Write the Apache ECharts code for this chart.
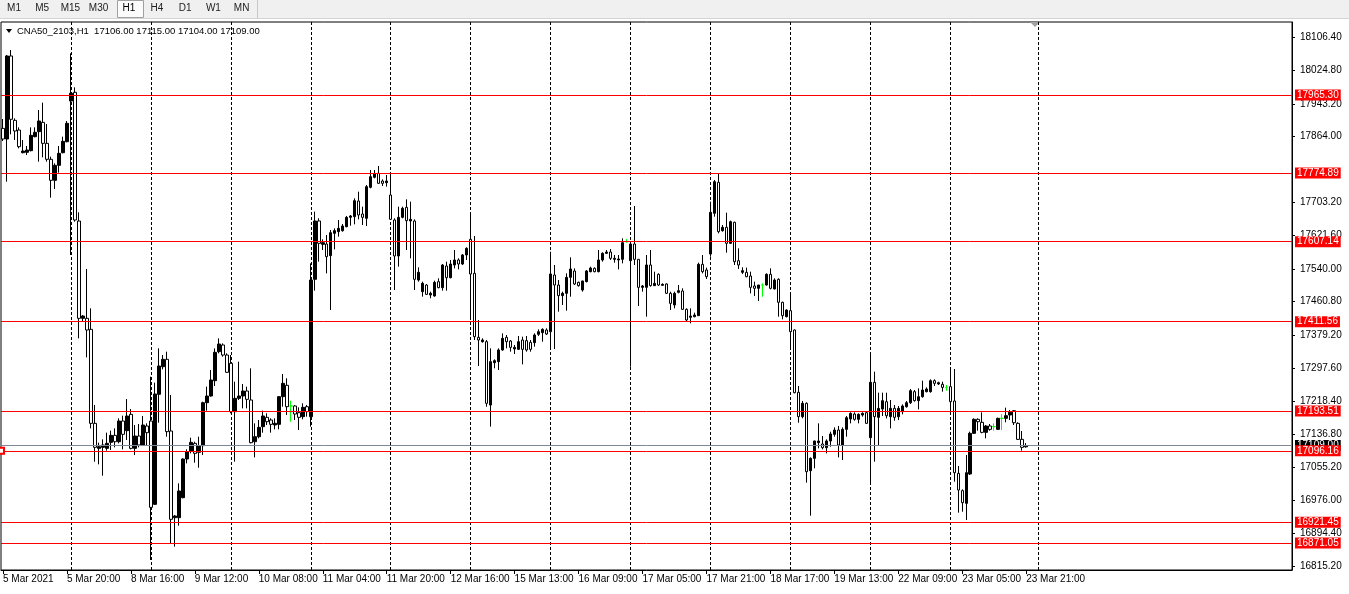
<!DOCTYPE html>
<html>
<head>
<meta charset="utf-8">
<script src="https://cdn.jsdelivr.net/npm/echarts@6/dist/echarts.min.js"></script>
<style>
html,body{margin:0;padding:0;background:#fff;}
#chart{width:1349px;height:594px;}
</style>
</head>
<body>
<div id="chart"></div>
<script>
// ---------- data ----------
const symbolName = 'CNA50_2103,H1';
const timeframes = ['M1','M5','M15','M30','H1','H4','D1','W1','MN'];
const activeTimeframe = 'H1';

// one label every 16 hourly bars, starting at the first bar
const xTickLabels = ['5 Mar 2021','5 Mar 20:00','8 Mar 16:00','9 Mar 12:00','10 Mar 08:00','11 Mar 04:00',
  '11 Mar 20:00','12 Mar 16:00','15 Mar 13:00','16 Mar 09:00','17 Mar 05:00','17 Mar 21:00',
  '18 Mar 17:00','19 Mar 13:00','22 Mar 09:00','23 Mar 05:00','23 Mar 21:00'];

const yTickValues = [18106.40,18024.80,17943.20,17864.00,17703.20,17621.60,17540.00,17460.80,
  17379.20,17297.60,17218.40,17136.80,17055.20,16976.00,16894.40,16815.20];

const levelLines = [17965.30,17774.89,17607.14,17411.56,17193.51,17096.16,16921.45,16871.05];
const selectedLevel = 17096.16;

const opens = [
17883.8,17857.8,18060.6,17903.4,17879.8,17824.4,17825.3,17829.3,17863.5,17875.7,
17898.5,17847.2,17808.2,17756.9,17793.5,17824.4,17851.3,17950.6,17971.8,17657.5,
17419.8,17419.8,17392.9,17163.3,17102.2,17104.7,17102.2,17116.9,17134.0,17118.5,
17169.0,17145.4,17185.3,17102.2,17132.4,17110.4,17156.8,17169.0,16965.5,17234.2,
17301.7,17319.7,17144.6,16932.9,16932.9,16981.8,17076.2,17095.7,17114.4,17092.5,
17108.8,17213.8,17230.1,17267.5,17338.4,17354.7,17330.2,17309.9,17191.8,17224.4,
17230.1,17242.3,17220.3,17118.5,17130.7,17155.2,17178.0,17171.5,17159.3,17160.9,
17228.5,17256.2,17205.7,17205.7,17189.4,17179.6,17204.0,17179.6,17515.1,17657.6,
17600.6,17601.4,17572.9,17627.4,17631.5,17633.9,17643.7,17666.5,17668.1,17706.4,
17674.6,17664.1,17739.8,17764.2,17774.0,17755.2,17751.2,17721.0,17660.0,17572.1,
17666.5,17690.9,17657.6,17657.6,17513.4,17484.9,17501.2,17476.8,17474.4,17509.4,
17494.7,17547.6,17519.1,17550.1,17562.3,17552.5,17574.5,17612.8,17529.7,17373.4,
17362.8,17362.8,17208.1,17311.5,17314.0,17342.5,17373.4,17364.4,17344.9,17344.1,
17366.9,17365.3,17361.2,17360.4,17380.7,17384.8,17391.3,17387.2,17525.6,17501.2,
17475.2,17480.9,17519.9,17535.4,17507.7,17489.0,17509.4,17533.8,17541.9,17533.8,
17562.3,17578.6,17581.8,17563.9,17562.3,17563.9,17607.1,17560.6,17601.4,17563.9,
17495.5,17495.5,17550.1,17499.6,17527.3,17500.4,17503.7,17480.9,17452.4,17483.3,
17486.6,17441.8,17422.2,17423.9,17426.3,17551.7,17537.9,17576.9,17676.3,17752.0,
17633.9,17642.1,17603.0,17654.3,17560.6,17532.2,17532.2,17523.2,17498.8,17493.1,
17501.2,17501.2,17527.3,17491.5,17515.1,17458.9,17423.9,17438.5,17391.3,17239.0,
17179.6,17212.2,17047.7,17077.8,17116.1,17112.9,17103.9,17120.2,17136.4,17147.0,
17110.4,17148.6,17173.9,17186.1,17173.1,17183.7,17189.4,17128.3,17263.5,17178.0,
17198.3,17216.2,17179.6,17199.9,17179.6,17191.8,17204.0,17213.8,17240.7,17218.7,
17228.4,17240.7,17240.7,17267.5,17259.4,17258.6,17250.4,17252.9,17217.9,17041.2,
16998.9,16967.9,17039.6,17138.9,17173.1,17165.8,17141.3,17156.8,17155.2,17148.6,
17175.5,17175.5,17183.7,17194.2,17163.3,17124.2,17106.0];

const highs = [
17906.7,18063.0,18075.2,17908.3,17886.3,17855.4,17840.7,17886.3,17886.3,17928.6,
17946.6,17894.5,17814.7,17798.4,17840.7,17863.5,17901.8,18067.1,17984.0,17678.7,
17427.9,17540.3,17444.2,17208.1,17116.1,17124.2,17140.5,17145.4,17151.1,17175.5,
17182.0,17222.7,17198.3,17159.2,17161.7,17181.2,17163.3,17277.3,17262.6,17346.5,
17330.2,17338.4,17232.5,16939.4,17016.8,17077.8,17099.8,17128.3,17118.5,17130.7,
17216.2,17252.9,17293.6,17346.5,17370.9,17358.7,17334.3,17330.2,17265.1,17313.9,
17259.4,17252.9,17297.7,17163.3,17171.5,17194.3,17187.8,17175.6,17175.6,17230.1,
17283.8,17273.3,17218.7,17208.1,17202.4,17212.2,17208.1,17554.1,17680.4,17664.1,
17612.8,17623.3,17635.6,17639.6,17660.0,17650.2,17669.8,17672.2,17712.9,17729.2,
17692.5,17745.5,17782.1,17782.1,17791.9,17759.3,17769.9,17769.9,17664.1,17692.5,
17692.5,17710.5,17704.8,17661.6,17544.4,17509.4,17503.7,17484.9,17511.8,17517.5,
17552.5,17558.2,17562.3,17586.7,17566.4,17576.9,17593.2,17672.2,17620.9,17415.7,
17371.0,17366.9,17346.5,17319.7,17346.5,17383.2,17379.1,17366.9,17354.7,17376.7,
17375.0,17376.7,17366.9,17383.2,17392.9,17395.4,17395.4,17582.6,17550.1,17513.4,
17484.9,17529.7,17568.8,17541.9,17509.4,17511.8,17537.9,17546.0,17544.4,17586.7,
17581.0,17586.7,17589.1,17574.5,17574.5,17615.2,17613.6,17601.4,17694.2,17563.9,
17501.2,17574.5,17586.7,17533.8,17529.7,17505.3,17505.3,17484.9,17484.9,17501.2,
17493.1,17444.2,17444.2,17433.6,17555.8,17574.5,17543.6,17704.8,17757.7,17772.3,
17647.8,17677.9,17658.4,17655.9,17590.8,17544.4,17543.6,17533.8,17509.4,17501.2,
17505.3,17529.7,17541.9,17517.5,17517.5,17460.5,17441.8,17483.3,17392.9,17254.5,
17217.9,17214.6,17080.3,17121.0,17163.3,17132.4,17124.2,17143.0,17153.5,17156.8,
17153.5,17181.2,17190.2,17190.2,17187.7,17190.2,17191.8,17335.9,17289.5,17238.2,
17238.2,17238.2,17220.3,17208.1,17205.7,17209.7,17217.9,17247.2,17244.7,17248.8,
17267.5,17251.2,17270.8,17270.8,17265.1,17265.1,17256.9,17296.0,17296.0,17059.1,
17002.1,17086.0,17143.0,17175.5,17175.5,17190.2,17159.2,17161.7,17163.3,17177.2,
17186.1,17201.6,17195.9,17195.9,17165.8,17144.6,17115.0];

const lows = [
17852.9,17753.6,17869.2,17855.4,17835.0,17822.8,17818.7,17827.7,17861.9,17802.5,
17813.0,17802.5,17714.5,17735.7,17775.6,17822.8,17849.7,17574.5,17655.9,17370.9,
17411.6,17324.5,17151.1,17069.7,17063.2,17035.5,17096.6,17098.2,17104.7,17114.4,
17099.8,17122.6,17099.8,17085.9,17104.7,17107.9,17110.4,16829.5,16963.8,17164.9,
17295.2,17130.7,16870.2,16862.1,16913.4,16980.1,17065.6,17090.0,17067.2,17055.0,
17085.9,17194.3,17228.4,17254.5,17334.3,17326.2,17287.1,17187.8,17069.7,17220.3,
17199.9,17199.9,17114.4,17080.3,17126.7,17140.5,17159.3,17140.5,17148.7,17148.7,
17204.0,17183.7,17167.4,17171.5,17147.1,17173.1,17179.6,17155.2,17487.4,17558.2,
17586.7,17529.7,17440.2,17588.3,17619.3,17631.5,17642.1,17646.1,17649.4,17661.6,
17647.8,17645.3,17737.3,17761.8,17747.9,17743.0,17741.4,17660.0,17489.0,17546.0,
17664.1,17586.7,17566.4,17489.0,17509.4,17472.7,17476.8,17468.7,17472.7,17493.1,
17487.4,17487.4,17517.5,17541.9,17539.5,17550.1,17562.3,17419.8,17366.9,17303.4,
17360.4,17204.0,17155.2,17297.7,17293.6,17340.8,17346.5,17338.4,17332.7,17342.5,
17307.4,17338.4,17338.4,17350.6,17376.7,17362.8,17379.1,17344.9,17344.9,17436.1,
17452.4,17438.5,17472.7,17501.2,17497.2,17484.9,17507.7,17532.2,17532.2,17532.2,
17558.2,17576.9,17562.3,17555.8,17539.5,17554.1,17604.6,17301.7,17550.1,17449.9,
17484.9,17423.9,17497.2,17498.8,17498.8,17498.8,17479.2,17440.2,17444.2,17480.9,
17440.2,17411.7,17407.6,17422.2,17425.5,17529.7,17515.9,17570.4,17668.1,17627.4,
17631.5,17580.2,17601.4,17550.1,17540.3,17528.1,17520.0,17480.9,17474.4,17462.1,
17472.7,17499.6,17490.6,17490.6,17423.9,17417.4,17422.2,17342.4,17236.6,17164.9,
17175.5,17018.4,16937.8,17053.4,17102.2,17099.8,17090.0,17106.3,17130.7,17080.3,
17073.7,17130.7,17163.3,17169.8,17163.3,17179.6,17161.7,17018.4,17069.7,17110.4,
17181.2,17175.5,17151.1,17169.8,17171.4,17185.3,17201.6,17210.5,17216.2,17197.5,
17226.0,17239.0,17238.2,17254.5,17256.9,17240.7,17243.1,17191.8,17020.8,16945.1,
16947.5,16927.2,17037.1,17137.3,17145.4,17138.9,17126.7,17145.4,17145.4,17147.0,
17147.0,17165.8,17171.4,17159.2,17122.6,17096.5,17104.0];

const closes = [
17857.8,18060.6,17905.9,17877.4,17839.1,17828.5,17830.9,17866.8,17874.1,17901.8,
17847.2,17808.2,17756.9,17793.5,17822.8,17852.1,17896.1,17969.4,17660.0,17419.8,
17425.5,17391.3,17163.3,17104.7,17106.3,17110.4,17114.4,17134.0,17118.5,17169.0,
17136.5,17181.2,17102.2,17132.4,17110.4,17159.2,17140.5,16958.1,17235.0,17303.4,
17319.7,17143.0,16928.9,16937.0,16998.1,17076.2,17093.3,17116.9,17090.0,17107.9,
17213.8,17230.1,17269.2,17336.7,17357.1,17330.2,17287.9,17191.8,17224.4,17230.1,
17242.3,17221.9,17116.1,17130.7,17153.5,17181.3,17167.4,17160.9,17163.4,17228.5,
17261.0,17204.0,17205.7,17186.1,17178.0,17202.4,17191.8,17513.4,17657.6,17603.0,
17604.6,17570.4,17629.0,17633.9,17639.6,17645.3,17666.5,17669.8,17707.2,17672.2,
17666.5,17741.4,17765.8,17774.0,17749.5,17749.5,17755.2,17661.6,17572.1,17666.5,
17688.5,17658.4,17661.6,17515.1,17532.2,17505.3,17478.4,17480.9,17507.7,17494.7,
17550.1,17519.1,17552.5,17562.3,17552.5,17574.5,17590.8,17528.1,17375.0,17366.9,
17366.9,17212.2,17314.0,17316.4,17342.5,17370.9,17362.8,17348.9,17348.9,17362.8,
17344.1,17342.5,17344.1,17379.1,17387.2,17392.9,17381.5,17528.1,17501.2,17475.2,
17480.9,17519.9,17540.3,17503.7,17499.6,17511.0,17535.4,17542.7,17533.8,17562.3,
17578.6,17581.8,17566.4,17566.4,17564.7,17604.6,17607.1,17601.4,17563.9,17495.5,
17498.8,17550.1,17499.6,17505.3,17501.2,17502.8,17480.9,17456.4,17480.9,17487.4,
17441.8,17415.7,17425.5,17427.9,17551.7,17533.8,17521.6,17678.7,17753.6,17631.5,
17642.1,17603.0,17655.9,17558.2,17550.1,17536.2,17521.6,17495.5,17493.1,17501.2,
17501.2,17527.3,17493.1,17513.4,17458.9,17426.3,17440.1,17387.2,17238.2,17179.6,
17212.2,17045.2,17077.8,17120.2,17120.2,17103.9,17120.2,17137.3,17147.0,17110.4,
17148.6,17177.2,17187.7,17173.1,17185.3,17187.7,17163.3,17263.5,17179.6,17199.9,
17218.7,17182.0,17199.9,17178.0,17199.9,17205.7,17213.8,17243.1,17218.7,17228.4,
17244.7,17247.2,17267.5,17261.0,17262.6,17251.2,17250.4,17216.2,17042.8,17000.5,
16969.5,17042.8,17138.9,17173.1,17167.4,17141.3,17156.8,17148.6,17155.2,17175.5,
17175.5,17182.0,17190.2,17164.9,17124.2,17104.7,17109.0];

// ---------- layout / style ----------
const FONT = '"Liberation Sans", Arial, sans-serif';
const BARS_PER_LABEL = 16;
const TOTAL_SLOTS = 323;          // bars + right-side chart shift space
const SEP_FIRST = 17, SEP_STEP = 20;
const Y_MIN = 16805.11, Y_MAX = 18143.60;
const DOJI = '#00ff00';

const nBars = opens.length;
const categories = Array.from({length: TOTAL_SLOTS}, (_, i) => String(i));
const candleData = opens.map((o, i) => {
  const item = { value: [o, closes[i], lows[i], highs[i]] };
  if (o === closes[i]) item.itemStyle = { color: DOJI, color0: DOJI, borderColor: DOJI, borderColor0: DOJI };
  return item;
});

const separators = [];
for (let b = SEP_FIRST; b < nBars; b += SEP_STEP) separators.push({ xAxis: b });
separators.push({ xAxis: nBars + 2 });

const lastO = opens[nBars-1], lastH = highs[nBars-1], lastL = lows[nBars-1], lastC = closes[nBars-1];

const levelData = [
  { yAxis: lastC, lineStyle: { color: '#7d8894' }, label: { backgroundColor: '#000' } }
].concat(levelLines.map(v => {
  const d = { yAxis: v };
  if (v === selectedLevel) { d.symbol = 'emptyRect'; d.symbolSize = 6; }
  return d;
}));

const labelShown = (i) => i % BARS_PER_LABEL === 0 && i < nBars;

// toolbar graphics
const toolbar = [
  { type: 'rect', shape: { x: 0, y: 0, width: 1349, height: 18 }, style: { fill: '#f0f0f0' }, silent: true },
  { type: 'rect', shape: { x: 0, y: 18, width: 1349, height: 1 }, style: { fill: '#d4d4d4' }, silent: true },
  { type: 'rect', shape: { x: 117.5, y: 0.5, width: 26, height: 17 }, style: { fill: '#fbfbfb', stroke: '#a0a0a0', lineWidth: 1 }, silent: true },
  { type: 'rect', shape: { x: 257, y: 0, width: 1, height: 18 }, style: { fill: '#c8c8c8' }, silent: true },
  { type: 'polygon', shape: { points: [[6, 29], [12, 29], [9, 33]] }, style: { fill: '#000' }, silent: true },
  { type: 'polygon', shape: { points: [[1030, 22], [1040, 22], [1035, 27]] }, style: { fill: '#a0a0a0' }, silent: true }
];
timeframes.forEach((tf, i) => {
  toolbar.push({
    type: 'text', silent: true,
    x: 14 + 28.2 * i + (i >= 4 ? 2 : 0), y: 8.5,
    style: { text: tf, fill: tf === activeTimeframe ? '#000' : '#222', font: '10px ' + FONT, align: 'center', verticalAlign: 'middle' }
  });
});

const chart = echarts.init(document.getElementById('chart'), null, { renderer: 'canvas' });
chart.setOption({
  animation: false,
  backgroundColor: '#fff',
  title: {
    text: symbolName + '  ' + [lastO, lastH, lastL, lastC].map(v => v.toFixed(2)).join(' '),
    left: 17, top: 26, padding: 0,
    textStyle: { fontSize: 9.5, fontWeight: 'normal', color: '#000', fontFamily: FONT }
  },
  graphic: toolbar,
  grid: { left: 0, right: 57, top: 22, bottom: 24, show: true, borderColor: '#000', borderWidth: 1, backgroundColor: '#fff' },
  xAxis: {
    type: 'category', data: categories, boundaryGap: true,
    axisLine: { show: true, lineStyle: { color: '#000', width: 1 } },
    axisTick: { show: true, alignWithLabel: true, length: 4, interval: labelShown, lineStyle: { color: '#000' } },
    axisLabel: {
      interval: labelShown, align: 'left', margin: 4, color: '#000', fontSize: 10, fontFamily: FONT,
      formatter: (v, i) => xTickLabels[Math.round(i / BARS_PER_LABEL)] || ''
    },
    splitLine: { show: false }
  },
  yAxis: {
    type: 'value', position: 'right', min: Y_MIN, max: Y_MAX, scale: true,
    axisLine: { show: true, lineStyle: { color: '#000', width: 1 } },
    axisTick: { show: true, length: 3, customValues: yTickValues, lineStyle: { color: '#000' } },
    axisLabel: { customValues: yTickValues, formatter: v => v.toFixed(2), margin: 8, color: '#000', fontSize: 10, fontFamily: FONT },
    splitLine: { show: false }
  },
  series: [
    {
      name: 'separators', type: 'line', data: [], z: 1, silent: true,
      markLine: {
        silent: true, symbol: 'none', z: 1, animation: false,
        label: { show: false },
        lineStyle: { color: '#000', width: 1, type: [3, 2] },
        emphasis: { disabled: true },
        data: separators
      }
    },
    {
      name: symbolName, type: 'candlestick', data: candleData, barWidth: 3, z: 3, silent: true,
      itemStyle: { color: '#000', color0: '#fff', borderColor: '#000', borderColor0: '#000', borderWidth: 1 },
      markLine: {
        silent: true, symbol: 'none', z: 6, animation: false,
        lineStyle: { color: '#ff0000', width: 1, type: 'solid' },
        label: {
          show: true, position: 'end', distance: 3, color: '#fff', backgroundColor: '#ff0000',
          padding: [1, 2, 0, 2], fontSize: 10, fontFamily: FONT,
          formatter: p => Number(p.value).toFixed(2)
        },
        emphasis: { disabled: true },
        data: levelData
      }
    }
  ]
});
</script>
</body>
</html>
